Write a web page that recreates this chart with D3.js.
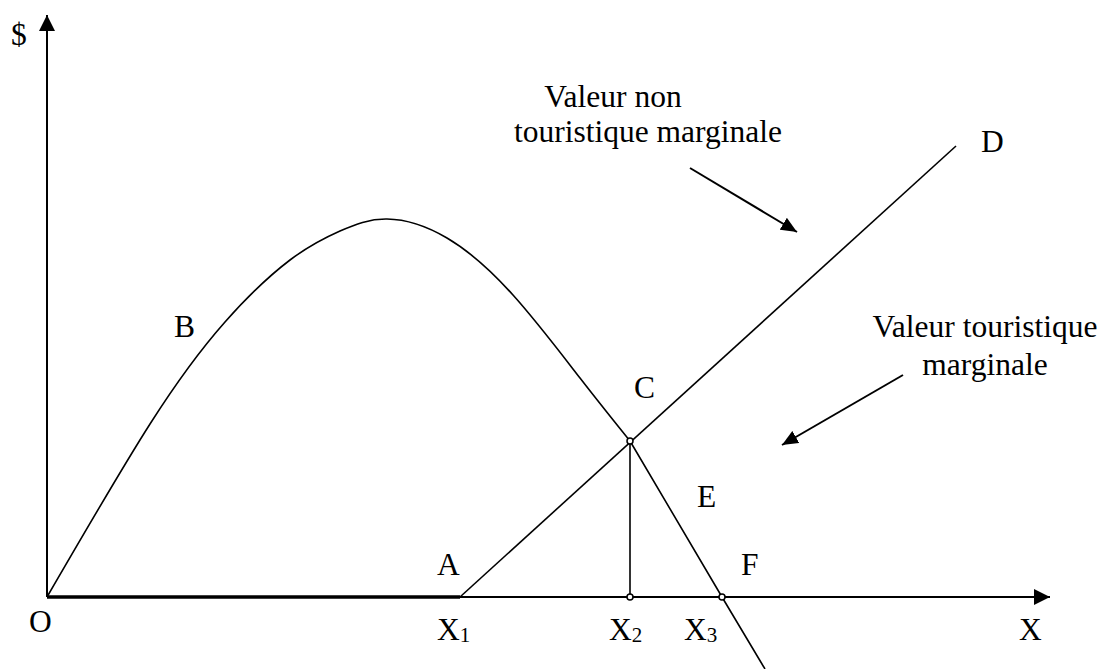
<!DOCTYPE html>
<html>
<head>
<meta charset="utf-8">
<script src="https://cdn.jsdelivr.net/npm/d3@7"></script>
<style>
  body { margin: 0; background: #fff; }
</style>
</head>
<body>
<div id="chart"></div>
<script>
// curve O-B-C (rising then falling)
var curveX = [0, 10.3, 17.8, 24.3, 29.3, 34, 40, 46.6, 53.3, 58.3];
var curveY = [0, 17.3, 27.5, 33.7, 36.6, 37.8, 35.9, 30.2, 21.9, 15.6];
// straight tail C-E-F and below the axis
var tailX = [58.3, 67.5, 71.8];
var tailY = [15.6, 0, -7.2];

// line A-C-D (marginal non-touristic value)
var lineX = [41.3, 90.9];
var lineY = [0, 45.1];

// points on the x axis
var xTicks = [41.3, 58.3, 67.5];
var xTickLabels = ['1', '2', '3'];

// intersection C
var pointC = [58.3, 15.6];

var width = 1103, height = 669;
var font = '"Liberation Serif", "Times New Roman", serif';

var x = d3.scaleLinear().domain([0, 100]).range([47, 1047]);
var y = d3.scaleLinear().domain([0, 60]).range([597, -3]);

var svg = d3.select('#chart').append('svg')
    .attr('width', width)
    .attr('height', height);

var defs = svg.append('defs');
defs.append('marker')
    .attr('id', 'head')
    .attr('markerUnits', 'userSpaceOnUse')
    .attr('viewBox', '0 0 16 16')
    .attr('refX', 16).attr('refY', 8)
    .attr('markerWidth', 16).attr('markerHeight', 16)
    .attr('orient', 'auto')
  .append('path')
    .attr('d', 'M0,0L16,8L0,16Z')
    .attr('fill', '#000');

defs.append('marker')
    .attr('id', 'headSmall')
    .attr('markerUnits', 'userSpaceOnUse')
    .attr('viewBox', '0 0 16 14')
    .attr('refX', 16).attr('refY', 7)
    .attr('markerWidth', 16).attr('markerHeight', 14)
    .attr('orient', 'auto')
  .append('path')
    .attr('d', 'M0,0L16,7L0,14Z')
    .attr('fill', '#000');

// axes
svg.append('line')
    .attr('x1', x(0)).attr('y1', y(0))
    .attr('x2', x(0)).attr('y2', 15)
    .attr('stroke', '#000').attr('stroke-width', 2)
    .attr('marker-end', 'url(#head)');

svg.append('line')
    .attr('x1', x(0)).attr('y1', y(0))
    .attr('x2', x(100.3)).attr('y2', y(0))
    .attr('stroke', '#000').attr('stroke-width', 2)
    .attr('marker-end', 'url(#head)');

// bold segment O to X1
svg.append('line')
    .attr('x1', x(0)).attr('y1', y(0))
    .attr('x2', x(xTicks[0])).attr('y2', y(0))
    .attr('stroke', '#000').attr('stroke-width', 3.5);

// curve
var smooth = d3.line()
    .x(function(d) { return x(d[0]) })
    .y(function(d) { return y(d[1]) })
    .curve(d3.curveNatural);

var straight = d3.line()
    .x(function(d) { return x(d[0]) })
    .y(function(d) { return y(d[1]) });

svg.append('path')
    .attr('d', smooth(d3.zip(curveX, curveY)))
    .attr('fill', 'none')
    .attr('stroke', '#000')
    .attr('stroke-width', 1.6);

svg.append('path')
    .attr('d', straight(d3.zip(tailX, tailY)))
    .attr('fill', 'none')
    .attr('stroke', '#000')
    .attr('stroke-width', 1.6);

// straight line A-D
svg.append('path')
    .attr('d', straight(d3.zip(lineX, lineY)))
    .attr('fill', 'none')
    .attr('stroke', '#000')
    .attr('stroke-width', 1.6);

// vertical from C to X2
svg.append('line')
    .attr('x1', x(pointC[0])).attr('y1', y(pointC[1]))
    .attr('x2', x(pointC[0])).attr('y2', y(0))
    .attr('stroke', '#000').attr('stroke-width', 1.6);

// annotation arrows
var arrows = [
    [[64.3, 42.9], [75, 36.5]],
    [[85.6, 22.2], [73.5, 15.2]]
];
arrows.forEach(function(a) {
    svg.append('line')
        .attr('x1', x(a[0][0])).attr('y1', y(a[0][1]))
        .attr('x2', x(a[1][0])).attr('y2', y(a[1][1]))
        .attr('stroke', '#000').attr('stroke-width', 2)
        .attr('marker-end', 'url(#headSmall)');
});

// small circle markers
var dots = [pointC, [xTicks[1], 0], [xTicks[2], 0]];
svg.selectAll('circle.dot')
    .data(dots)
    .enter().append('circle')
    .attr('class', 'dot')
    .attr('cx', function(d) { return x(d[0]) })
    .attr('cy', function(d) { return y(d[1]) })
    .attr('r', 3)
    .attr('fill', '#fff')
    .attr('stroke', '#000')
    .attr('stroke-width', 1.5);

// labels
var fs = 31.5;
function label(txt, px, py, anchor) {
    return svg.append('text')
        .attr('x', px).attr('y', py)
        .attr('font-family', font)
        .attr('font-size', fs)
        .attr('fill', '#000')
        .attr('text-anchor', anchor || 'start')
        .text(txt);
}

label('$', 11, 45);
label('O', 29, 632);
label('A', 437, 575);
label('B', 174, 337);
label('C', 634, 398);
label('D', 981, 152);
label('E', 697, 507);
label('F', 741, 575);
label('X', 1019, 640);

// X1, X2, X3 labels with subscripts
var subX = [437, 609, 684];
xTicks.forEach(function(v, i) {
    var t = svg.append('text')
        .attr('x', subX[i]).attr('y', 640)
        .attr('font-family', font)
        .attr('font-size', fs);
    t.append('tspan').text('X');
    t.append('tspan').attr('font-size', 21).attr('dy', 2).text(xTickLabels[i]);
});

label('Valeur non', 613, 107, 'middle');
label('touristique marginale', 648, 142, 'middle');
label('Valeur touristique', 985, 337, 'middle');
label('marginale', 985, 375, 'middle');
</script>
</body>
</html>
